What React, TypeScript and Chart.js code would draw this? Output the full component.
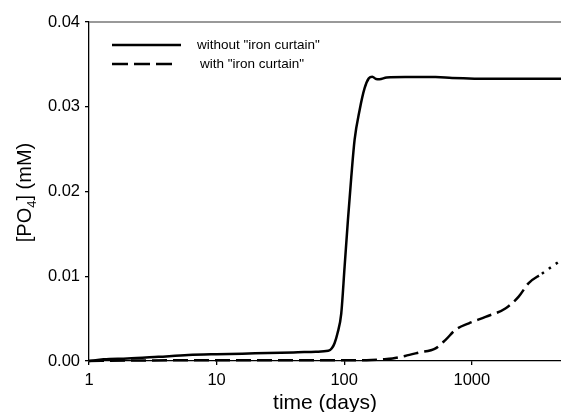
import React, { useEffect, useRef } from 'react';
import { Chart, registerables } from 'chart.js';

Chart.register(...registerables);

// ---- data ----
const solidDays = [1, 1.3, 2, 3.5, 6, 10, 20, 40, 60, 75, 80, 84, 88.7, 94.8, 100.7, 106.9, 113.6, 120.6, 132, 144.5, 156, 166, 178, 189, 215, 300, 520, 700, 1500, 5000];
const solidPO4 = [0, 0.0002, 0.0003, 0.0005, 0.0007, 0.0008, 0.0009, 0.001, 0.0011, 0.0012, 0.0015, 0.0021, 0.0033, 0.0056, 0.0111, 0.0166, 0.0217, 0.0261, 0.0296, 0.0322, 0.03336, 0.03355, 0.03327, 0.03324, 0.03345, 0.0335, 0.0335, 0.0334, 0.0333, 0.0333];

const dashedDays = [1, 2, 10, 50, 150, 200, 239, 300, 385, 520, 623, 747, 948, 1280, 1832, 2330, 2790, 3540, 4790, 5000];
const dashedPO4 = [0, 0.00005, 0.0001, 0.0001, 0.0001, 0.0002, 0.0003, 0.0006, 0.001, 0.0015, 0.0025, 0.0037, 0.00445, 0.0052, 0.0062, 0.0076, 0.0092, 0.0103, 0.0117, 0.0119];

const xTickValues = [1, 10, 100, 1000];
const yTickValues = [0, 0.01, 0.02, 0.03, 0.04];
const seriesLabels = ['without "iron curtain"', 'with "iron curtain"'];
const xTitle = 'time (days)';
const yTitleParts = ['[PO', '4', '] (mM)'];

const FONT = '"Liberation Sans", Arial, Helvetica, sans-serif';
const DASH = [15, 6];
const DOTS = [2.5, 6];

const overlayPlugin = {
  id: 'overlay',
  afterDraw(chart: any) {
    const ctx = chart.ctx as CanvasRenderingContext2D;
    const area = chart.chartArea;
    ctx.save();
    // top frame line
    ctx.strokeStyle = '#777';
    ctx.lineWidth = 1.5;
    ctx.beginPath();
    ctx.moveTo(area.left, area.top);
    ctx.lineTo(area.right, area.top);
    ctx.stroke();

    // legend
    const ds = chart.data.datasets;
    ctx.lineWidth = 2.5;
    ctx.strokeStyle = ds[0].borderColor;
    ctx.setLineDash([]);
    ctx.beginPath();
    ctx.moveTo(112, 45);
    ctx.lineTo(181, 45);
    ctx.stroke();
    ctx.strokeStyle = ds[1].borderColor;
    ctx.setLineDash([16, 6]);
    ctx.beginPath();
    ctx.moveTo(112, 64);
    ctx.lineTo(173, 64);
    ctx.stroke();
    ctx.setLineDash([]);
    ctx.fillStyle = '#000';
    ctx.font = `13.5px ${FONT}`;
    ctx.textBaseline = 'middle';
    ctx.textAlign = 'left';
    ctx.fillText(ds[0].label, 197, 45);
    ctx.fillText(ds[1].label, 200, 64);

    // x title
    ctx.font = `21px ${FONT}`;
    ctx.textAlign = 'center';
    ctx.textBaseline = 'alphabetic';
    ctx.fillText(xTitle, (area.left + area.right) / 2, 409);

    // y title with subscript
    const mainFont = `20px ${FONT}`;
    const subFont = `13px ${FONT}`;
    ctx.font = mainFont;
    const w0 = ctx.measureText(yTitleParts[0]).width;
    const w2 = ctx.measureText(yTitleParts[2]).width;
    ctx.font = subFont;
    const w1 = ctx.measureText(yTitleParts[1]).width;
    const total = w0 + w1 + w2;
    ctx.translate(31, 192.5);
    ctx.rotate(-Math.PI / 2);
    ctx.textAlign = 'left';
    let x = -total / 2;
    ctx.font = mainFont;
    ctx.fillText(yTitleParts[0], x, 0);
    x += w0;
    ctx.font = subFont;
    ctx.fillText(yTitleParts[1], x, 5);
    x += w1;
    ctx.font = mainFont;
    ctx.fillText(yTitleParts[2], x, 0);
    ctx.restore();
  },
};

export default function App() {
  const canvasRef = useRef<HTMLCanvasElement | null>(null);

  useEffect(() => {
    document.body.style.margin = '0';
    const canvas = canvasRef.current;
    if (!canvas) return;
    const tickFont = { family: FONT, size: 16.5 };
    const chart = new Chart(canvas, {
      type: 'line',
      data: {
        datasets: [
          {
            label: seriesLabels[0],
            data: solidDays.map((x, i) => ({ x, y: solidPO4[i] })),
            borderColor: '#000',
            borderWidth: 2.5,
            pointRadius: 0,
            cubicInterpolationMode: 'monotone',
            fill: false,
            clip: false,
          } as any,
          {
            label: seriesLabels[1],
            data: dashedDays.map((x, i) => ({ x, y: dashedPO4[i] })),
            borderColor: '#000',
            borderWidth: 2.5,
            borderDash: DASH,
            pointRadius: 0,
            cubicInterpolationMode: 'monotone',
            fill: false,
            clip: false,
            segment: {
              borderDash: (c: any) => (c.p0.parsed.x >= 3000 ? DOTS : DASH),
            },
          } as any,
        ],
      },
      options: {
        responsive: false,
        animation: false,
        events: [],
        layout: { padding: { top: 22, left: 0, right: 0, bottom: 0 } },
        plugins: { legend: { display: false }, tooltip: { enabled: false } },
        scales: {
          x: {
            type: 'logarithmic',
            min: 1,
            max: 5000,
            afterBuildTicks: (s: any) => {
              s.ticks = xTickValues.map((v) => ({ value: v, major: true }));
            },
            afterFit: (s: any) => {
              s.height = 51;
            },
            ticks: {
              callback: (v: any) => String(v),
              font: tickFont,
              color: '#000',
              padding: 6,
              autoSkip: false,
              maxRotation: 0,
            },
            grid: { display: true, drawOnChartArea: false, drawTicks: true, tickLength: 4, color: '#000', lineWidth: 1.3 },
            border: { display: true, color: '#000', width: 1.3 },
          },
          y: {
            type: 'linear',
            min: 0,
            max: 0.04,
            afterBuildTicks: (s: any) => {
              s.ticks = yTickValues.map((v) => ({ value: v }));
            },
            afterFit: (s: any) => {
              s.width = 89;
            },
            ticks: {
              callback: (v: any) => Number(v).toFixed(2),
              font: tickFont,
              color: '#000',
              padding: 5,
            },
            grid: { display: true, drawOnChartArea: false, drawTicks: true, tickLength: 4, color: '#000', lineWidth: 1.3 },
            border: { display: true, color: '#000', width: 1.3 },
          },
        },
      } as any,
      plugins: [overlayPlugin],
    });
    return () => chart.destroy();
  }, []);

  return <canvas ref={canvasRef} width={561} height={412} style={{ display: 'block' }} />;
}
